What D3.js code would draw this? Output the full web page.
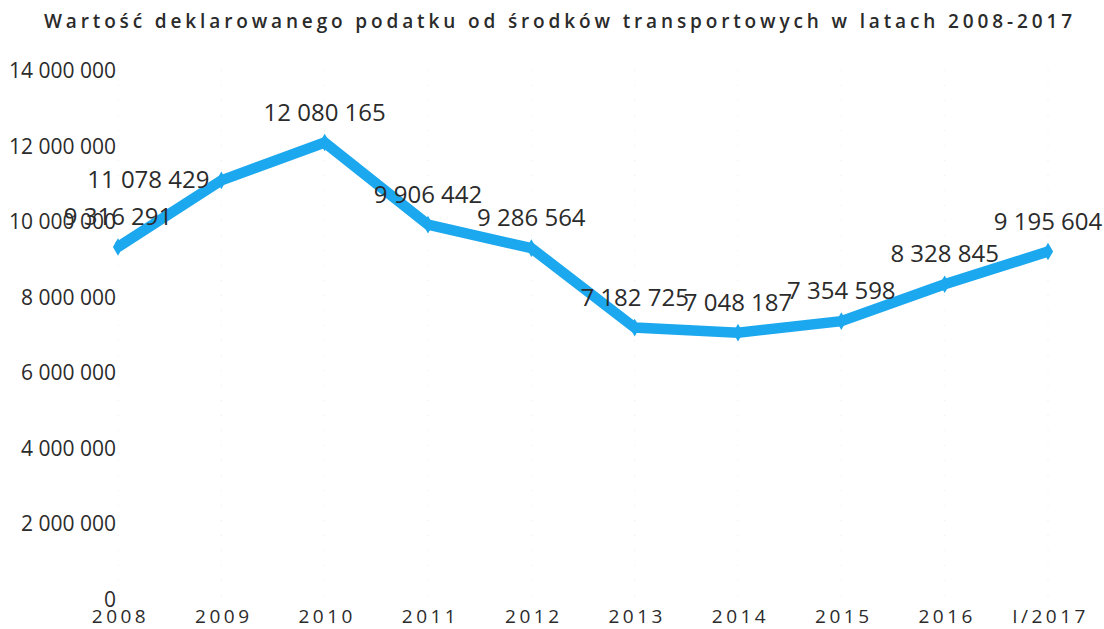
<!DOCTYPE html>
<html>
<head>
<meta charset="utf-8">
<script src="https://cdn.jsdelivr.net/npm/d3@7"></script>
<style>
  body { margin: 0; background: #fff; }
  text { font-family: "Open Sans", "Noto Sans", sans-serif; fill: #2b2b2b; }
</style>
</head>
<body>
<svg id="chart" width="1104" height="629"></svg>
<script>
// Dane
const lata = ["2008", "2009", "2010", "2011", "2012", "2013", "2014", "2015", "2016", "I/2017"];
const podatek = [9316291, 11078429, 12080165, 9906442, 9286564, 7182725, 7048187, 7354598, 8328845, 9195604];
const yTicks = [0, 2000000, 4000000, 6000000, 8000000, 10000000, 12000000, 14000000];
// gdzie stoi etykieta danych
const etykietaPoz = ["above", "left", "above", "above", "above", "above", "above", "above", "above", "above"];

const tytul = "Wartość deklarowanego podatku od środków transportowych w latach 2008-2017";

const svg = d3.select("#chart");

const x = d3.scalePoint().domain(lata).range([118, 1048]);
const y = d3.scaleLinear().domain([0, 14000000]).range([599, 70]);

// liczby ze spacją jako separatorem tysięcy
const fmt = v => d3.format(",")(v).replace(/,/g, " ");

// Tytuł
svg.append("text")
  .attr("x", 44)
  .attr("y", 28)
  .attr("textLength", 1028)
  .attr("lengthAdjust", "spacing")
  .style("font-size", "19px")
  .style("font-weight", "600")
  .text(tytul);

// słabe pionowe linie (jak w skanie)
svg.append("g")
  .selectAll("line")
  .data(lata)
  .enter().append("line")
    .attr("x1", d => x(d))
    .attr("x2", d => x(d))
    .attr("y1", y(14000000))
    .attr("y2", y(0))
    .attr("stroke", "#ececec")
    .attr("stroke-dasharray", "1,14");

// Oś Y
const yAxis = svg.append("g")
  .attr("transform", "translate(116,0)")
  .call(d3.axisLeft(y).tickValues(yTicks).tickSize(0).tickPadding(0).tickFormat(fmt));
yAxis.select(".domain").remove();
yAxis.selectAll("text")
  .attr("dy", "0.36em")
  .style("font-size", "21px")
  .style("fill", "#2b2b2b");

// Oś X
const xAxis = svg.append("g")
  .attr("transform", "translate(0,609)")
  .call(d3.axisBottom(x).tickSize(0).tickPadding(0));
xAxis.select(".domain").remove();
xAxis.selectAll("text")
  .attr("dy", "0.72em")
  .attr("dx", "2")
  .style("font-size", "19px")
  .style("letter-spacing", "3.5px")
  .style("fill", "#2b2b2b");

// Linia
const line = d3.line()
  .x((d, i) => x(lata[i]))
  .y(d => y(d));

svg.append("path")
  .datum(podatek)
  .attr("d", line)
  .attr("fill", "none")
  .attr("stroke", "#1ca8ee")
  .attr("stroke-width", 10.5)
  .attr("stroke-linejoin", "miter");

// znaczniki
svg.append("g")
  .selectAll("path")
  .data(podatek)
  .enter().append("path")
    .attr("transform", (d, i) => `translate(${x(lata[i])},${y(d)})`)
    .attr("d", d3.symbol().type(d3.symbolDiamond).size(90))
    .attr("fill", "#1ca8ee");

// Etykiety danych
svg.append("g")
  .selectAll("text")
  .data(podatek)
  .enter().append("text")
    .attr("x", (d, i) => etykietaPoz[i] === "left" ? x(lata[i]) - 73 : x(lata[i]))
    .attr("y", (d, i) => etykietaPoz[i] === "left" ? y(d) + 8 : y(d) - 22)
    .attr("text-anchor", "middle")
    .style("font-size", "24px")
    .text(d => fmt(d));
</script>
</body>
</html>
